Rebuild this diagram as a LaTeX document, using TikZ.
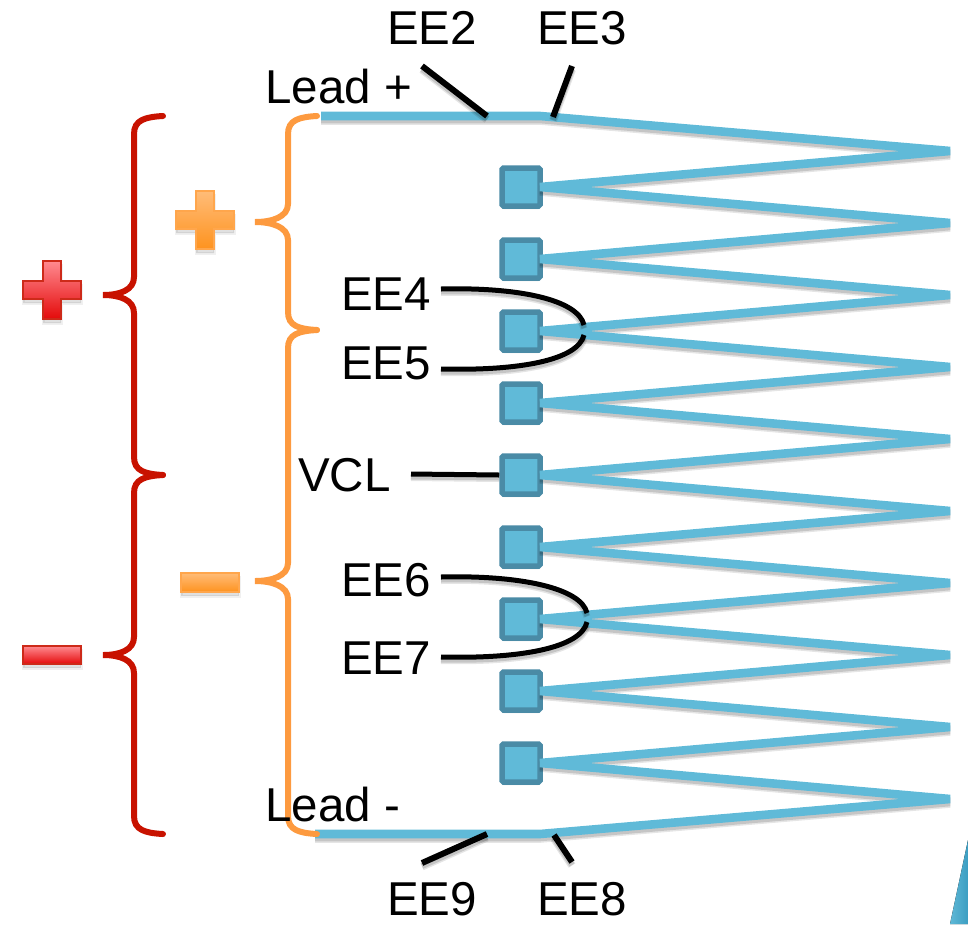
\documentclass[tikz,border=0pt]{standalone}
\usepackage{fontspec}
\setmainfont{Liberation Sans}
\definecolor{wire}{HTML}{60BAD8}
\definecolor{wireedge}{HTML}{4A8BA6}
\definecolor{redb}{HTML}{C81200}
\definecolor{orangeb}{HTML}{FD9A3F}
\definecolor{cornerL}{HTML}{5FB8D6}
\definecolor{cornerR}{HTML}{3C9EC2}
\definecolor{redtop}{HTML}{FF8A90}
\definecolor{redbot}{HTML}{E40A0A}
\definecolor{oratop}{HTML}{FFBC78}
\definecolor{orabot}{HTML}{FE931F}
\tikzset{
  softshadow/.style={
    preaction={draw=black,draw opacity=.10,line width=#1+2pt,transform canvas={yshift=-3.5pt}},
    preaction={draw=black,draw opacity=.14,line width=#1,transform canvas={yshift=-3pt}}},
  wireline/.style={draw=wire,line width=8.6pt,line join=miter,miter limit=3,softshadow=8.6pt},
  eesq/.style={draw=wireedge,fill=wire,line width=5.5pt,rounded corners=1.5pt,minimum size=38pt,inner sep=0pt,
    preaction={fill=black,fill opacity=.15,transform canvas={yshift=-3pt}}},
  lbl/.style={font=\fontsize{47.5}{50}\selectfont,text=black,inner sep=0pt,anchor=base west},
  lead/.style={draw=black,line width=6pt,softshadow=6pt},
  leadthin/.style={draw=black,line width=5pt,softshadow=5pt},
  redbrace/.style={draw=redb,line width=6pt,line cap=round},
  orangebrace/.style={draw=orangeb,line width=6pt,line cap=round},
  redicon/.style={draw=redb!90!white,line width=2pt,top color=redtop,bottom color=redbot},
  orangeicon/.style={draw=orange!70!white,line width=2pt,top color=oratop,bottom color=orabot},
  iconshadow/.style={fill=black,fill opacity=.12,draw=black,draw opacity=.06,line width=3pt,transform canvas={yshift=-4pt}},
}
\begin{document}
\begin{tikzpicture}[x=1pt,y=-1pt]
\useasboundingbox (0,0) rectangle (968,924);
% corner fragment
\fill[left color=cornerL,right color=cornerR] (968,840) -- (968,924) -- (950,924) -- cycle;
% squares
\foreach \n/\y in {1/187,2/259,3/331,4/403,5/475,6/547,7/619,8/691,9/763}
  \node[eesq] (s\n) at (521,\y) {};
% wire tips
\foreach \n/\y in {1/151,2/223,3/295,4/367,5/439,6/511,7/583,8/655,9/727,10/799}
  \coordinate (t\n) at (950,\y);
\foreach \n/\y in {1/187,2/259,3/331,4/403,5/475,6/547,7/619,8/691,9/763}
  \coordinate (p\n) at (540,\y);
\coordinate (leadpA) at (321,116);
\coordinate (leadpB) at (540,116);
\coordinate (leadmA) at (315,834);
\coordinate (leadmB) at (540,834);
\draw[wireline] (leadpA) -- (leadpB) -- (t1) -- (p1) -- (t2) -- (p2) -- (t3) -- (p3) -- (t4) -- (p4) -- (t5) -- (p5) -- (t6) -- (p6) -- (t7) -- (p7) -- (t8) -- (p8) -- (t9) -- (p9) -- (t10) -- (leadmB) -- (leadmA);
% red braces
\coordinate (rA) at (163,116);
\coordinate (rB) at (103,295);
\coordinate (rC) at (163,475);
\coordinate (rD) at (103,655);
\coordinate (rE) at (163,834);
\draw[redbrace] (rA) .. controls (145,117) and (134,120) .. (134,134) -- (134,277) .. controls (134,290) and (120,295) .. (rB) .. controls (120,295) and (134,300) .. (134,313) -- (134,457) .. controls (134,471) and (145,474) .. (rC);
\draw[redbrace] (rC) .. controls (145,476) and (134,479) .. (134,493) -- (134,637) .. controls (134,650) and (120,655) .. (rD) .. controls (120,655) and (134,660) .. (134,673) -- (134,816) .. controls (134,830) and (145,833) .. (rE);
% orange braces
\coordinate (oA) at (317,116);
\coordinate (oB) at (255,222);
\coordinate (oC) at (317,330);
\coordinate (oD) at (255,581);
\coordinate (oE) at (317,834);
\draw[orangebrace] (oA) .. controls (299,117) and (288,120) .. (288,134) -- (288,204) .. controls (288,217) and (272,222) .. (oB) .. controls (272,222) and (288,227) .. (288,240) -- (288,312) .. controls (288,326) and (299,329) .. (oC);
\draw[orangebrace] (oC) .. controls (299,331) and (288,334) .. (288,348) -- (288,563) .. controls (288,576) and (272,581) .. (oD) .. controls (272,581) and (288,586) .. (288,599) -- (288,816) .. controls (288,830) and (299,833) .. (oE);
% icons
\path[iconshadow] (43,261) -- (61,261) -- (61,281) -- (81,281) -- (81,299) -- (61,299) -- (61,319) -- (43,319) -- (43,299) -- (23,299) -- (23,281) -- (43,281) -- cycle;
\path[redicon] (43,261) -- (61,261) -- (61,281) -- (81,281) -- (81,299) -- (61,299) -- (61,319) -- (43,319) -- (43,299) -- (23,299) -- (23,281) -- (43,281) -- cycle;
\path[iconshadow] (196,191) -- (214,191) -- (214,211) -- (234,211) -- (234,229) -- (214,229) -- (214,249) -- (196,249) -- (196,229) -- (176,229) -- (176,211) -- (196,211) -- cycle;
\path[orangeicon] (196,191) -- (214,191) -- (214,211) -- (234,211) -- (234,229) -- (214,229) -- (214,249) -- (196,249) -- (196,229) -- (176,229) -- (176,211) -- (196,211) -- cycle;
\path[iconshadow] (23,646) rectangle (81,664);
\path[redicon] (23,646) rectangle (81,664);
\path[iconshadow] (181,573) rectangle (239,592);
\path[orangeicon] (181,573) rectangle (239,592);
% labels
\node[lbl] (leadplus) at (265,103) {Lead +};
\node[lbl] (ee2) at (387,44) {EE2};
\node[lbl] (ee3) at (537,44) {EE3};
\node[lbl] (ee4) at (341,310) {EE4};
\node[lbl] (ee5) at (341,379) {EE5};
\node[lbl] (vcl) at (298,491) {VCL};
\node[lbl] (ee6) at (341,596) {EE6};
\node[lbl] (ee7) at (341,674) {EE7};
\node[lbl] (leadminus) at (265,821) {Lead -};
\node[lbl] (ee9) at (387,915) {EE9};
\node[lbl] (ee8) at (537,915) {EE8};
% leaders
\coordinate (a2) at (422,66); \coordinate (b2) at (487,116);
\coordinate (a3) at (572,66); \coordinate (b3) at (553,117);
\coordinate (a9) at (422,863); \coordinate (b9) at (487,834);
\coordinate (a8) at (572,862); \coordinate (b8) at (554,835);
\coordinate (avcl) at (411,474);
\coordinate (a4) at (441,289); \coordinate (b4) at (584,325);
\coordinate (a5) at (441,369); \coordinate (b5) at (584,335);
\coordinate (a6) at (441,577); \coordinate (b6) at (587,613);
\coordinate (a7) at (441,657); \coordinate (b7) at (587,622);
\draw[lead] (a2) -- (b2);
\draw[lead] (a3) -- (b3);
\draw[lead] (a9) -- (b9);
\draw[lead] (a8) -- (b8);
\draw[leadthin] (avcl) -- (s5.west);
\draw[leadthin] (a4) .. controls (520,287) and (578,300) .. (b4);
\draw[leadthin] (a5) .. controls (520,371) and (578,360) .. (b5);
\draw[leadthin] (a6) .. controls (520,575) and (581,588) .. (b6);
\draw[leadthin] (a7) .. controls (520,659) and (581,648) .. (b7);
\end{tikzpicture}
\end{document}
